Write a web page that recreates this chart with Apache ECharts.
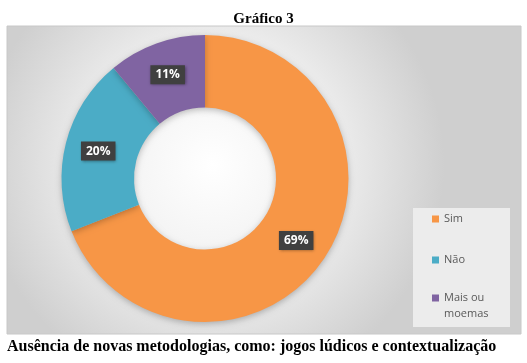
<!DOCTYPE html>
<html><head><meta charset="utf-8">
<script src="https://cdn.jsdelivr.net/npm/echarts@6/dist/echarts.min.js"></script>
<style>html,body{margin:0;padding:0;background:#fff}#c{width:527px;height:363px}</style>
</head><body><div id="c"></div>
<script>
const categories = ['Sim', 'Não', 'Mais ou moemas'];
const values = [69, 20, 11];
const colors = ['#F79646', '#4BACC6', '#8064A2'];
const titleText = 'Gráfico 3';
const captionText = 'Ausência de novas metodologias, como: jogos lúdicos e contextualização';

const legendText = {fontFamily: 'Open Sans', fontSize: 11, color: '#595959', lineHeight: 16};
const chart = echarts.init(document.getElementById('c'), null, {renderer: 'canvas'});
chart.setOption({
  animation: false,
  backgroundColor: '#ffffff',
  title: {
    text: titleText, left: 'center', top: 7,
    textStyle: {fontFamily: 'Liberation Serif', fontWeight: 'bold', fontSize: 15, color: '#000'}
  },
  graphic: [
    {type: 'rect', z: -10, shape: {x: 7, y: 26, width: 514, height: 308},
     style: {fill: new echarts.graphic.RadialGradient(0.4, 0.45, 0.75, [
        {offset: 0, color: '#ffffff'}, {offset: 0.5, color: '#f0f0f0'}, {offset: 1, color: '#cfcfcf'}]),
       stroke: '#c8c8c8', lineWidth: 1}},
    {type: 'rect', z: -5, shape: {x: 413, y: 208, width: 97, height: 119},
     style: {fill: '#ececec'}},
    {type: 'text', left: 7, top: 339,
     style: {text: captionText, font: 'bold 16px "Liberation Serif"', fill: '#000'}}
  ],
  legend: [{
    orient: 'vertical', left: 432, top: 211, padding: 0,
    itemWidth: 7, itemHeight: 7, itemGap: 25, icon: 'rect',
    data: categories.slice(0, 2),
    textStyle: legendText
  }, {
    orient: 'vertical', left: 432, top: 290, padding: 0,
    itemWidth: 7, itemHeight: 23, icon: 'path://M0,0L7,0L7,7L0,7Z M0,23L7,23Z',
    data: categories.slice(2),
    formatter: n => n.replace('Mais ou ', 'Mais ou\n'),
    textStyle: legendText
  }],
  series: [{
    type: 'pie', center: [205, 178.5], radius: [71, 143.5],
    startAngle: 90, clockwise: true, color: colors,
    itemStyle: {shadowBlur: 6, shadowColor: 'rgba(0,0,0,0.25)', shadowOffsetY: 2},
    label: {
      position: 'inside', formatter: '{d}%',
      color: '#ffffff', fontFamily: 'Open Sans', fontWeight: 'bold', fontSize: 12,
      backgroundColor: '#404040', padding: [4, 5, 3, 5],
      shadowBlur: 3, shadowColor: 'rgba(0,0,0,0.4)', shadowOffsetX: 1, shadowOffsetY: 1
    },
    labelLine: {show: false},
    emphasis: {disabled: true},
    data: categories.map((n, i) => ({name: n, value: values[i]}))
  }]
});
</script></body></html>
